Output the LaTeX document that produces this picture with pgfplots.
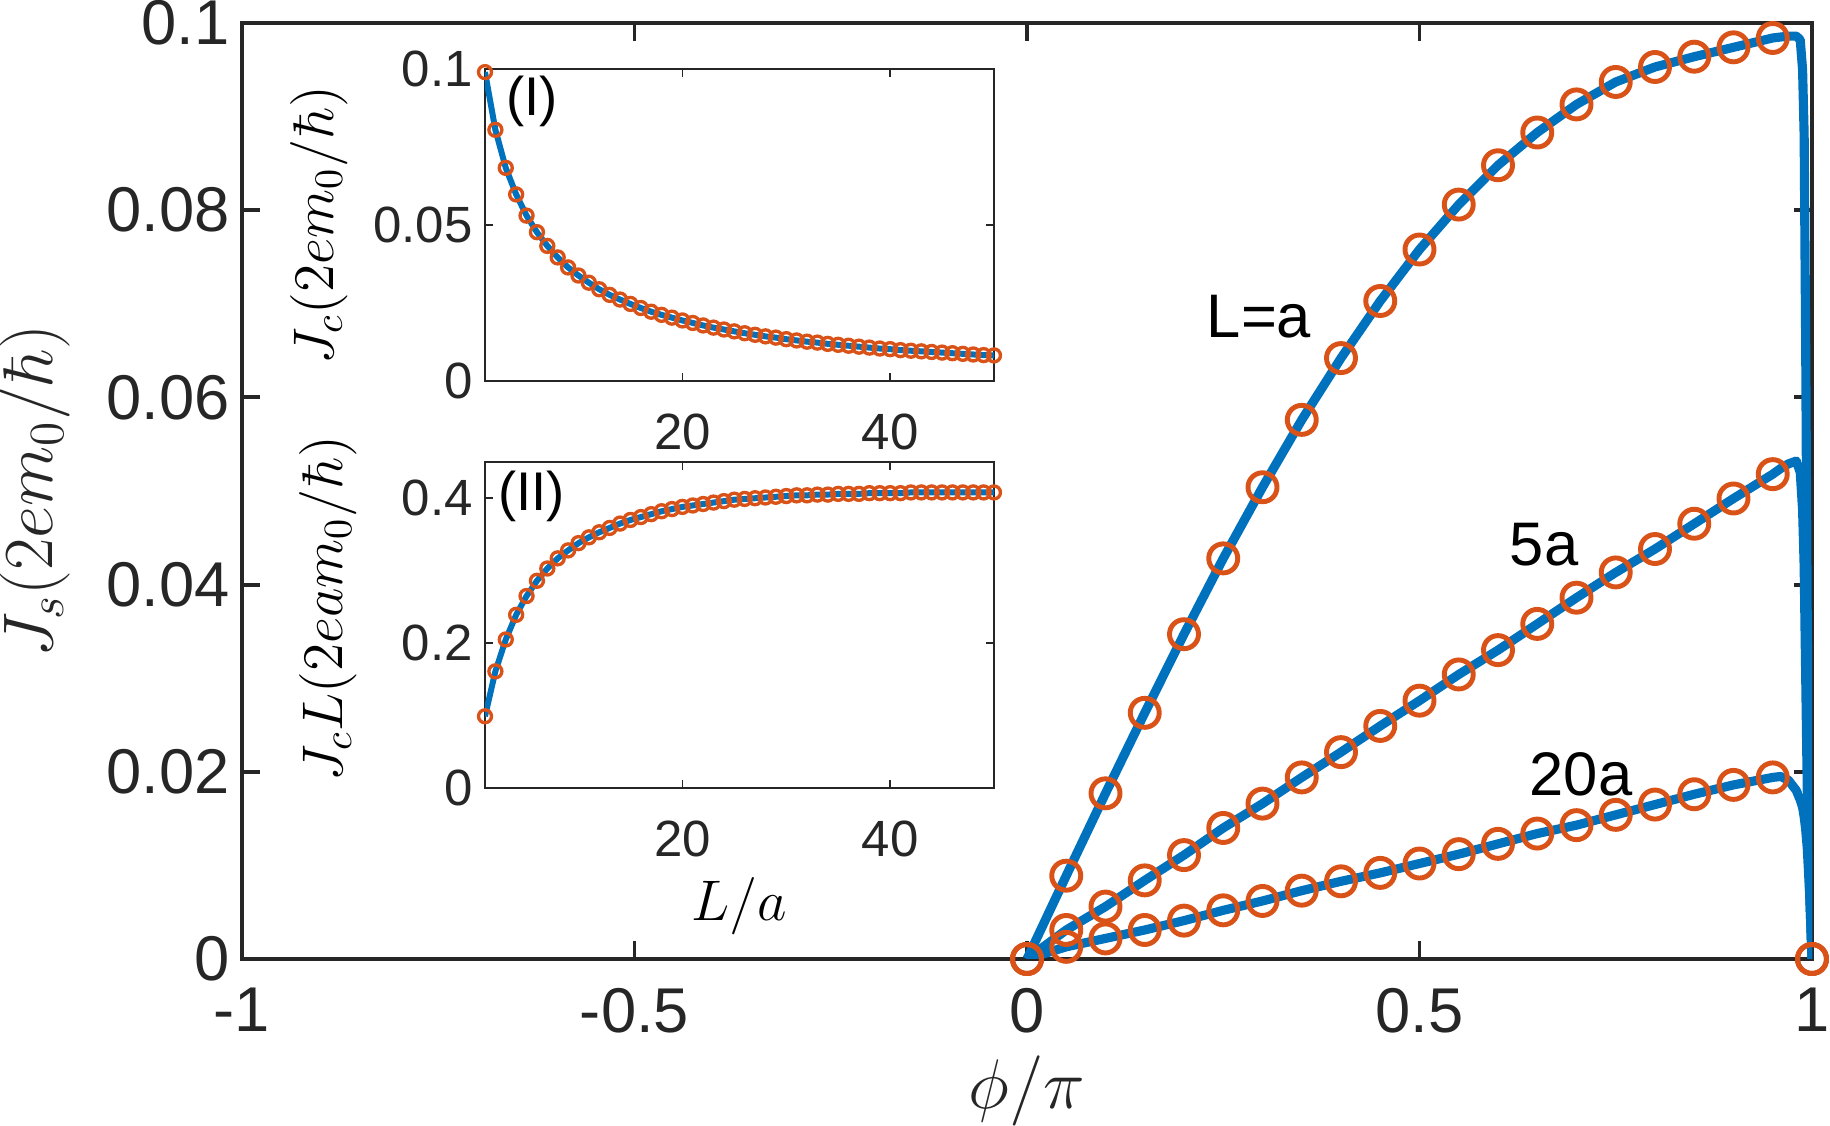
\RequirePackage{fix-cm}
\documentclass[border=0pt]{standalone}
\usepackage[no-math]{fontspec}
\setmainfont{Liberation Sans}
\usepackage{pgfplots}
\usepackage{pgfplotstable}
\pgfplotsset{compat=1.18}
\definecolor{mblue}{rgb}{0,0.447,0.741}
\definecolor{morange}{rgb}{0.851,0.325,0.098}
\definecolor{axgray}{rgb}{0.15,0.15,0.15}

% markers: phi, L=a, 5a, 20a
\pgfplotstableread{
phi a1 a5 a20
0 0 0 0
0.05 0.0089 0.0031 0.0013
0.10 0.0177 0.0056 0.0022
0.15 0.0263 0.0084 0.0031
0.20 0.0347 0.0111 0.0041
0.25 0.0428 0.0140 0.0052
0.30 0.0504 0.0166 0.0062
0.35 0.0576 0.0194 0.0073
0.40 0.0642 0.0221 0.0083
0.45 0.0703 0.0249 0.0092
0.50 0.0758 0.0276 0.0102
0.55 0.0806 0.0304 0.0112
0.60 0.0848 0.0330 0.0123
0.65 0.0883 0.0358 0.0134
0.70 0.0913 0.0386 0.0143
0.75 0.0937 0.0413 0.0154
0.80 0.0953 0.0438 0.0165
0.85 0.0964 0.0465 0.0176
0.90 0.0974 0.0492 0.0186
0.95 0.0984 0.0518 0.0194
1.00 0 0 0
}\markdata

% lines with dense points near phi = 1
\pgfplotstableread{
phi a1 a5 a20
0 0 0 0
0.05 0.0089 0.0031 0.0013
0.10 0.0177 0.0056 0.0022
0.15 0.0263 0.0084 0.0031
0.20 0.0347 0.0111 0.0041
0.25 0.0428 0.0140 0.0052
0.30 0.0504 0.0166 0.0062
0.35 0.0576 0.0194 0.0073
0.40 0.0642 0.0221 0.0083
0.45 0.0703 0.0249 0.0092
0.50 0.0758 0.0276 0.0102
0.55 0.0806 0.0304 0.0112
0.60 0.0848 0.0330 0.0123
0.65 0.0883 0.0358 0.0134
0.70 0.0913 0.0386 0.0143
0.75 0.0937 0.0413 0.0154
0.80 0.0953 0.0438 0.0165
0.85 0.0964 0.0465 0.0176
0.90 0.0974 0.0492 0.0186
0.95 0.0984 0.0518 0.0194
0.96 0.0985 0.0524 0.0195
0.97 0.0986 0.0529 0.0191
0.98 0.0986 0.0532 0.0180
0.985 0.0982 0.0520 0.0170
0.988 0.0950 0.0480 0.0162
0.99 0.0880 0.0420 0.0152
0.992 0.0650 0.0300 0.0138
0.994 0.0350 0.0180 0.0118
0.997 0.0120 0.0070 0.0070
1.00 0 0 0
}\linedata

% insets: L, Jc, JcL
\pgfplotstableread{
L jc jcl
1 0.0990 0.099
2 0.0805 0.161
3 0.0683 0.205
4 0.0598 0.239
5 0.0530 0.265
6 0.0477 0.286
7 0.0433 0.303
8 0.0396 0.317
9 0.0364 0.328
10 0.0338 0.338
11 0.0315 0.346
12 0.0294 0.353
13 0.0276 0.359
14 0.0261 0.365
15 0.0247 0.370
16 0.0234 0.374
17 0.0222 0.378
18 0.0212 0.382
19 0.0203 0.385
20 0.0194 0.388
21 0.0186 0.390
22 0.0178 0.392
23 0.0171 0.394
24 0.0165 0.396
25 0.0159 0.398
26 0.0153 0.399
27 0.0148 0.400
28 0.0143 0.401
29 0.0139 0.402
30 0.0134 0.403
31 0.0130 0.404
32 0.0126 0.404
33 0.0123 0.405
34 0.0119 0.405
35 0.0116 0.406
36 0.0113 0.406
37 0.0110 0.406
38 0.0107 0.407
39 0.0104 0.407
40 0.0102 0.407
41 0.0099 0.407
42 0.0097 0.408
43 0.0095 0.408
44 0.0093 0.408
45 0.0091 0.408
46 0.0089 0.408
47 0.0087 0.408
48 0.0085 0.408
49 0.0083 0.408
50 0.0082 0.408
}\jcdata

\pgfplotsset{
  insetstyle/.style={
    scale only axis,
    width=50.9mm,
    xmin=1, xmax=50,
    xtick={20,40}, xticklabels={20,40},
    tick align=inside,
    major tick length=0.8mm,
    axis line style={line width=0.45pt, draw=axgray},
    tick style={line width=0.45pt, draw=axgray},
    tick label style={font=\fontsize{14.5}{17}\selectfont, text=axgray},
    xticklabel style={yshift=-2.1mm},
    label style={font=\fontsize{16.3}{19}\selectfont, text=black},
    axis background/.style={fill=white},
    scaled ticks=false,
  },
}

\begin{document}
\begin{tikzpicture}
\path[use as bounding box] (-24.2mm,-16.7mm) rectangle (158.8mm,95.9mm);
\begin{axis}[
  scale only axis,
  width=157mm, height=93.6mm,
  xmin=-1, xmax=1, ymin=0, ymax=0.1,
  xtick={-1,-0.5,0,0.5,1}, xticklabels={-1,-0.5,0,0.5,1},
  ytick={0,0.02,0.04,0.06,0.08,0.1}, yticklabels={0,0.02,0.04,0.06,0.08,0.1},
  scaled ticks=false,
  tick align=inside,
  major tick length=1.8mm,
  axis line style={line width=1.1pt, draw=axgray},
  tick style={line width=1.1pt, draw=axgray},
  tick label style={font=\fontsize{18}{21}\selectfont, text=axgray},
  xticklabel style={yshift=-1.7mm},
  label style={font=\fontsize{20}{24}\selectfont, text=axgray},
  xlabel={$\phi/\pi$},
  ylabel={$J_s(2em_0/\hbar)$},
  xlabel style={at={(axis description cs:0.5,-0.141)}, anchor=center},
  ylabel style={at={(axis description cs:-0.1318,0.5)}, anchor=center},
]
\addplot[mblue, line width=2.6pt, line join=round] table[x=phi, y=a1] {\linedata};
\addplot[mblue, line width=2.6pt, line join=round] table[x=phi, y=a5] {\linedata};
\addplot[mblue, line width=2.6pt, line join=round] table[x=phi, y=a20] {\linedata};
\addplot[only marks, mark=o, mark size=1.45mm, mark options={draw=morange, line width=1.4pt}] table[x=phi, y=a1] {\markdata};
\addplot[only marks, mark=o, mark size=1.45mm, mark options={draw=morange, line width=1.4pt}] table[x=phi, y=a5] {\markdata};
\addplot[only marks, mark=o, mark size=1.45mm, mark options={draw=morange, line width=1.4pt}] table[x=phi, y=a20] {\markdata};
\node[font=\fontsize{17.5}{20}\selectfont] at (axis cs:0.2955,0.0686) {L=a};
\node[font=\fontsize{17.5}{20}\selectfont] at (axis cs:0.6586,0.0443) {5a};
\node[font=\fontsize{17.5}{20}\selectfont] at (axis cs:0.7057,0.0197) {20a};
\end{axis}

\begin{axis}[
  insetstyle,
  at={(24.3mm,57.8mm)}, anchor=south west,
  height=31.2mm,
  ymin=0, ymax=0.1,
  ytick={0,0.05,0.1}, yticklabels={0,0.05,0.1},
  ylabel={$J_c(2em_0/\hbar)$},
  ylabel style={at={(axis description cs:-0.326,0.5)}, anchor=center},
]
\addplot[mblue, line width=1.7pt, line join=round] table[x=L, y=jc] {\jcdata};
\addplot[only marks, mark=o, mark size=0.65mm, mark options={draw=morange, line width=0.95pt}] table[x=L, y=jc] {\jcdata};
\node[font=\fontsize{15.5}{18}\selectfont] at (rel axis cs:0.092,0.895) {(I)};
\end{axis}

\begin{axis}[
  insetstyle,
  at={(24.3mm,17.1mm)}, anchor=south west,
  height=32.6mm,
  ymin=0, ymax=0.45,
  ytick={0,0.2,0.4}, yticklabels={0,0.2,0.4},
  xlabel={$L/a$},
  ylabel={$J_cL(2eam_0/\hbar)$},
  xlabel style={at={(axis description cs:0.5,-0.362)}, anchor=center},
  ylabel style={at={(axis description cs:-0.308,0.55)}, anchor=center},
]
\addplot[mblue, line width=1.7pt, line join=round] table[x=L, y=jcl] {\jcdata};
\addplot[only marks, mark=o, mark size=0.65mm, mark options={draw=morange, line width=0.95pt}] table[x=L, y=jcl] {\jcdata};
\node[font=\fontsize{15.5}{18}\selectfont] at (rel axis cs:0.092,0.896) {(II)};
\end{axis}
\end{tikzpicture}
\end{document}
